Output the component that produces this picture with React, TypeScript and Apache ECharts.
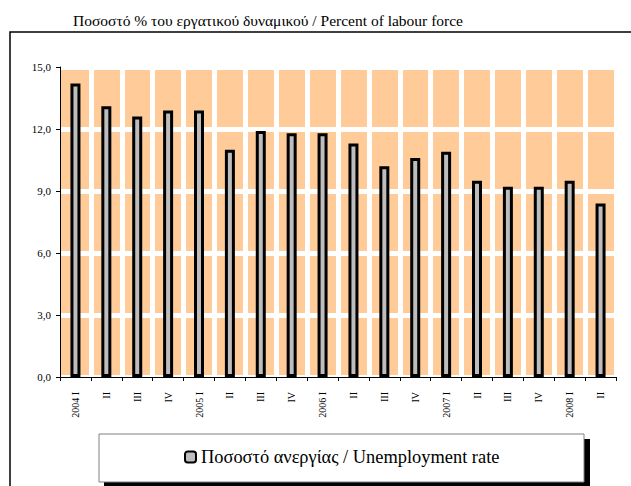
import React, { useEffect, useRef } from "react";
import * as echarts from "echarts";

const categories = [
  "2004 I", "II", "III", "IV",
  "2005 I", "II", "III", "IV",
  "2006 I", "II", "III", "IV",
  "2007 I", "II", "III", "IV",
  "2008 I", "II",
];
const unemploymentRate = [
  14.2, 13.1, 12.6, 12.9,
  12.9, 11.0, 11.9, 11.8,
  11.8, 11.3, 10.2, 10.6,
  10.9, 9.5, 9.2, 9.2,
  9.5, 8.4,
];
const titleText = "Ποσοστό % του εργατικού δυναμικού / Percent of labour force";
const seriesName = "Ποσοστό ανεργίας / Unemployment rate";
const yMin = 0;
const yMax = 15;
const yInterval = 3;

const SERIF = "Liberation Serif";

export default function App() {
  const ref = useRef<HTMLDivElement>(null);
  useEffect(() => {
    document.body.style.margin = "0";
    if (!ref.current) return;
    const chart = echarts.init(ref.current, null, { renderer: "svg" });
    chart.setOption({
      animation: false,
      backgroundColor: "#ffffff",
      textStyle: { fontFamily: SERIF },
      grid: {
        left: 60,
        width: 556,
        top: 67,
        height: 310,
        show: true,
        backgroundColor: "#FFCC99",
        borderWidth: 0,
      },
      graphic: [
        {
          type: "rect",
          z: -10,
          shape: { x: 10, y: 32, width: 660, height: 520 },
          style: { fill: "none", stroke: "#000", lineWidth: 1.5 },
        },
        {
          type: "text",
          x: 268,
          y: 20,
          style: {
            text: titleText,
            textAlign: "center",
            textVerticalAlign: "middle",
            fontSize: 15.5,
            fontFamily: SERIF,
            fill: "#000",
          },
        },
        {
          type: "rect",
          shape: { x: 104, y: 439, width: 486, height: 60 },
          style: { fill: "#000" },
        },
        {
          type: "rect",
          shape: { x: 99, y: 434, width: 485, height: 48 },
          style: { fill: "#fff", stroke: "#808080", lineWidth: 1 },
        },
      ],
      legend: {
        left: 184,
        top: 448,
        padding: 0,
        itemWidth: 11,
        itemHeight: 11,
        itemStyle: { borderWidth: 2, borderColor: "#000" },
        textStyle: { fontSize: 18.4, fontFamily: SERIF, color: "#000" },
        data: [seriesName],
      },
      xAxis: {
        type: "category",
        data: categories,
        boundaryGap: true,
        axisLine: { show: true, lineStyle: { color: "#000", width: 1 } },
        axisTick: { show: true, interval: 0, length: 4, lineStyle: { color: "#000" } },
        axisLabel: {
          interval: 0,
          rotate: 90,
          margin: 15,
          fontSize: 10,
          fontFamily: SERIF,
          color: "#000",
        },
        splitLine: {
          show: true,
          interval: 0,
          showMinLine: false,
          lineStyle: { color: "#ffffff", width: 5 },
        },
      },
      yAxis: {
        type: "value",
        min: yMin,
        max: yMax,
        interval: yInterval,
        axisLine: { show: true, lineStyle: { color: "#000", width: 1 } },
        axisTick: { show: true, length: 4, lineStyle: { color: "#000" } },
        axisLabel: {
          margin: 9,
          fontSize: 11,
          fontFamily: SERIF,
          color: "#000",
          formatter: (v: number) => v.toFixed(1).replace(".", ","),
        },
        splitLine: { show: true, lineStyle: { color: "#ffffff", width: 5 } },
      },
      series: [
        {
          name: seriesName,
          type: "bar",
          data: unemploymentRate,
          barWidth: 10,
          itemStyle: { color: "#bdbdbd", borderColor: "#000", borderWidth: 3 },
        },
      ],
    });
    return () => chart.dispose();
  }, []);
  return <div ref={ref} style={{ width: 631, height: 486 }} />;
}
